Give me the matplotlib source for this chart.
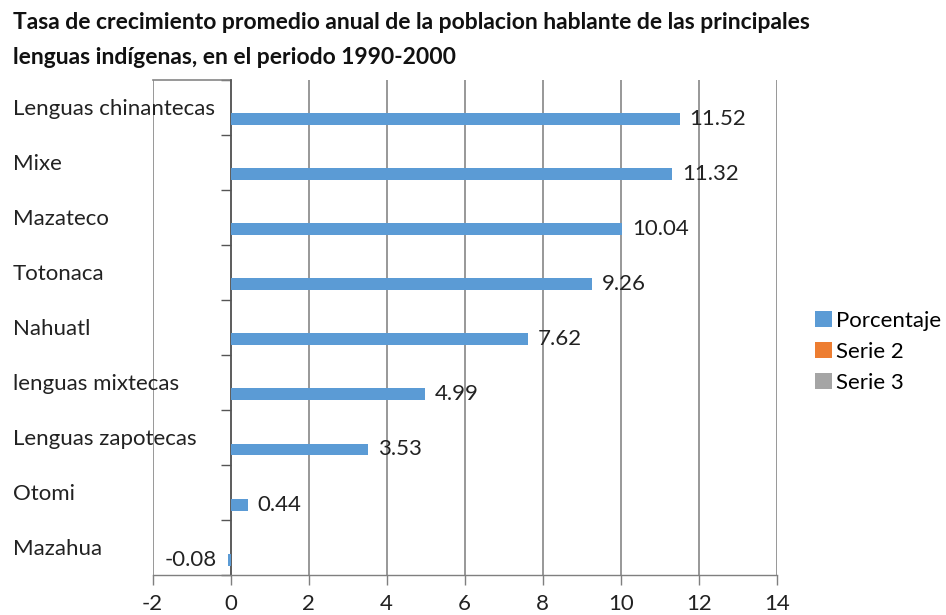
import matplotlib.pyplot as plt
from matplotlib.patches import Patch
from matplotlib.transforms import blended_transform_factory

OUTPUT_PLOT = "out.png"

TITLE = ("Tasa de crecimiento promedio anual de la poblacion hablante de las principales\n"
         "lenguas indígenas, en el periodo 1990-2000")

categories = ["Lenguas chinantecas", "Mixe", "Mazateco", "Totonaca", "Nahuatl",
              "lenguas mixtecas", "Lenguas zapotecas", "Otomi", "Mazahua"]
porcentaje = [11.52, 11.32, 10.04, 9.26, 7.62, 4.99, 3.53, 0.44, -0.08]
series_names = ["Porcentaje", "Serie 2", "Serie 3"]
series_colors = ["#5B9BD5", "#ED7D31", "#A5A5A5"]
x_ticks = [-2, 0, 2, 4, 6, 8, 10, 12, 14]

plt.rcParams["font.family"] = ["Lato", "DejaVu Sans"]
FS = 16


def plot_bars():
    fig = plt.figure(figsize=(9.46, 6.15), dpi=100)
    ax = fig.add_axes([0.1614, 0.065, 0.821 - 0.1614, 0.805])

    ys = list(range(len(categories)))
    bar_h = 0.218
    # Porcentaje is the first of three series -> sits at the bottom of each group
    bar_y = [y + bar_h for y in ys]
    ax.barh(bar_y, porcentaje, height=bar_h, color=series_colors[0], zorder=3)

    for yy, v in zip(bar_y, porcentaje):
        if v >= 0:
            ax.annotate(f"{v:.2f}", (v, yy), xytext=(7, 0), textcoords="offset points",
                        ha="left", va="center", fontsize=FS, color="#222222", zorder=4)
        else:
            ax.annotate(f"{v:.2f}", (v, yy), xytext=(-8, 0), textcoords="offset points",
                        ha="right", va="center", fontsize=FS, color="#222222", zorder=4)

    ax.set_xlim(-2, 14)
    ax.set_ylim(len(categories) - 0.5, -0.5)
    ax.set_xticks(x_ticks)
    ax.set_xticklabels([str(t) for t in x_ticks], fontsize=FS, color="#222222")
    ax.tick_params(axis="x", direction="out", length=7, width=1.0, color="#7f7f7f", pad=7)

    # category axis sits at x = 0, ticks between categories
    ax.spines["left"].set_position(("data", 0))
    ax.spines["left"].set_color("#555555")
    ax.spines["left"].set_linewidth(1.2)
    ax.set_yticks([i - 0.5 for i in range(len(categories) + 1)])
    ax.set_yticklabels([])
    ax.tick_params(axis="y", direction="out", length=7, width=1.0, color="#555555")

    ax.spines["top"].set_visible(False)
    ax.spines["right"].set_visible(False)
    ax.spines["bottom"].set_color("#7f7f7f")
    ax.spines["bottom"].set_linewidth(1.0)
    ax.set_axisbelow(True)
    ax.grid(axis="x", color="#868686", linewidth=1.2)
    ax.plot([-2, 0], [-0.5, -0.5], color="#868686", linewidth=1.2, clip_on=False)

    # category labels, left aligned near the figure edge
    trans = blended_transform_factory(fig.transFigure, ax.transData)
    for y, name in zip(ys, categories):
        ax.text(13 / 946, y + 0.02, name, transform=trans, ha="left", va="center",
                fontsize=FS, color="#222222", clip_on=False)

    fig.text(13 / 946, 1 - 12 / 615, TITLE, ha="left", va="top", fontsize=16.5,
             fontweight="bold", color="#111111", linespacing=1.8)

    handles = [Patch(facecolor=c, edgecolor="none") for c in series_colors]
    fig.legend(handles, series_names, loc="upper left", bbox_to_anchor=(0.852, 0.509),
               frameon=False, fontsize=FS, handlelength=0.75, handleheight=0.75,
               handletextpad=0.2, labelspacing=0.5, borderaxespad=0)

    plt.savefig(OUTPUT_PLOT, dpi=100)


if __name__ == "__main__":
    plot_bars()
